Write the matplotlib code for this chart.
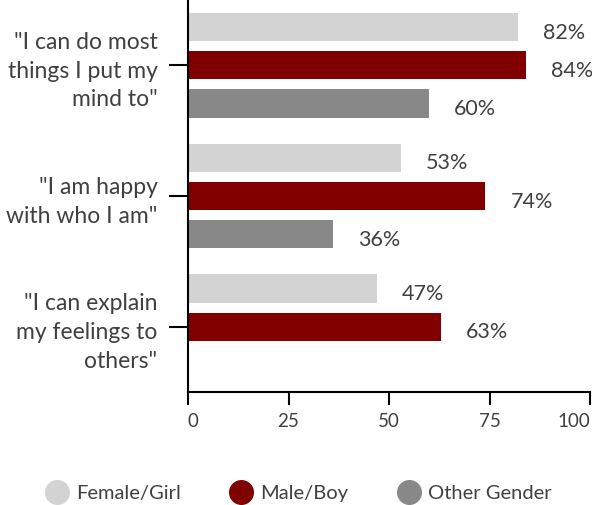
import numpy as np
import matplotlib.pyplot as plt
from matplotlib.lines import Line2D

# survey statements and percent agreeing by gender
statements = ['"I can do most\nthings I put my\nmind to"',
              '"I am happy\nwith who I am"',
              '"I can explain\nmy feelings to\nothers"']
female = [82, 53, 47]
male = [84, 74, 63]
other = [60, 36, np.nan]  # no value for the last statement

series_names = ['Female/Girl', 'Male/Boy', 'Other Gender']
series_colors = ['#d3d3d3', '#800000', '#888888']
x_ticks = [0, 25, 50, 75, 100]

plt.rcParams['font.family'] = ['Lato', 'DejaVu Sans']
text_color = '#404040'

fig = plt.figure(figsize=(5.92, 5.05), dpi=100)
ax = fig.add_axes([188 / 592, 113 / 505, 402 / 592, 392 / 505])

y = np.arange(len(statements))
bar_h = 28 / 130
step = 38 / 130

for i, (vals, color) in enumerate(zip([female, male, other], series_colors)):
    offs = (i - 1) * step
    for yy, v in zip(y, vals):
        if np.isnan(v):
            continue
        ax.barh(yy + offs, v, height=bar_h, color=color)
        ax.annotate(f'{v:.0f}%', xy=(v, yy + offs), xytext=(18, -4),
                    textcoords='offset points', ha='left', va='center',
                    fontsize=15.5, color=text_color)

ax.set_ylim(2.5, -0.5)
ax.set_xlim(0, 100)
ax.set_yticks(y)
ax.set_yticklabels(statements, fontsize=16.5, color=text_color, linespacing=1.45)
ax.set_xticks(x_ticks)
ax.set_xticklabels([str(t) for t in x_ticks], fontsize=13.5, color=text_color)
labels = ax.get_xticklabels()
labels[0].set_ha('left')
labels[-1].set_ha('right')

ax.tick_params(axis='y', length=14, width=1.5, pad=8)
ax.tick_params(axis='x', length=9, width=1.5, pad=6)
for side in ['top', 'right']:
    ax.spines[side].set_visible(False)
for side in ['left', 'bottom']:
    ax.spines[side].set_linewidth(1.5)

handles = [Line2D([], [], marker='o', linestyle='', markersize=17,
                  markerfacecolor=c, markeredgecolor=c) for c in series_colors]
leg = fig.legend(handles, series_names, loc='center', bbox_to_anchor=(298 / 592, 12 / 505),
                 ncol=3, frameon=False, fontsize=14.5, handletextpad=0.35,
                 columnspacing=2.4, handlelength=1.2)
for t in leg.get_texts():
    t.set_color(text_color)

fig.savefig('out.png', dpi=100)
